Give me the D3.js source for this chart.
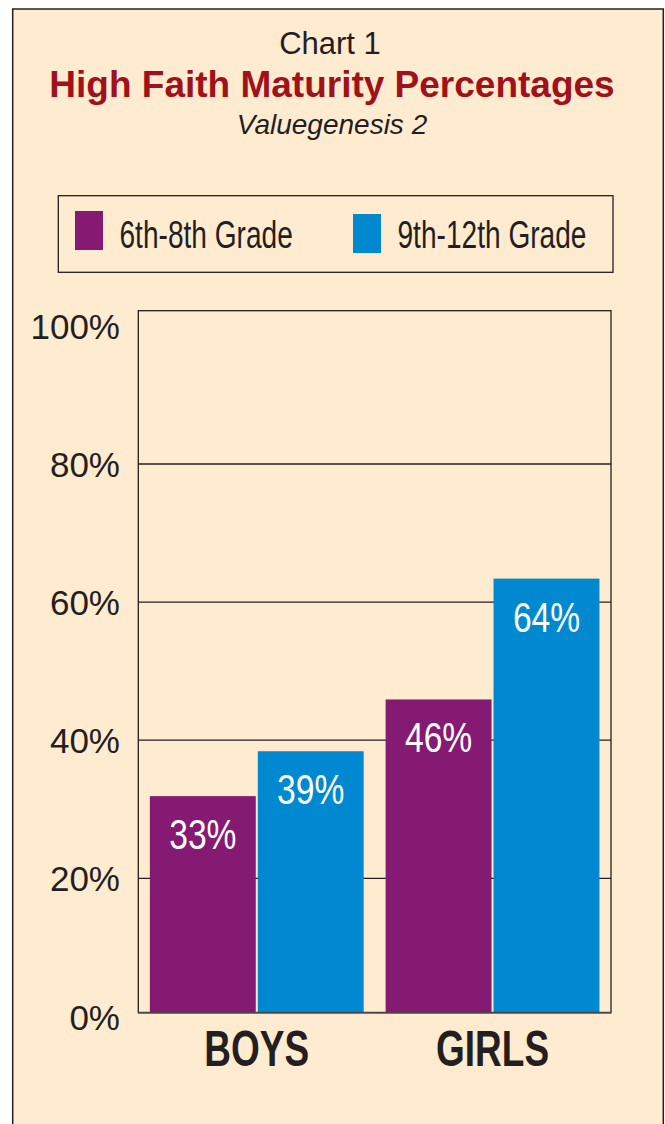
<!DOCTYPE html>
<html>
<head>
<meta charset="utf-8">
<script src="https://cdn.jsdelivr.net/npm/d3@7"></script>
<style>
	html, body { margin: 0; padding: 0; background: #ffffff; }
	svg { display: block; }
	text { font-family: "Liberation Sans", Arial, Helvetica, sans-serif; }
</style>
</head>
<body>
<div id="svgcontainer"></div>
<script>
// chart data
var groups = ["BOYS", "GIRLS"];
var series = ["6th-8th Grade", "9th-12th Grade"];
var seriesColors = ["#851a73", "#0089d0"];
// bar heights as drawn in the picture, and the printed labels
var barValues = [
	[31.9, 38.4],   // BOYS
	[45.9, 63.4]    // GIRLS
];
var barLabels = [
	["33%", "39%"],
	["46%", "64%"]
];
var yTicks = [0, 20, 40, 60, 80, 100];

var width = 665, height = 1124;
var ink = "#231f20";
var paper = "#ffebd0";

var svg = d3.select("#svgcontainer").append("svg")
	.attr("width", width)
	.attr("height", height);

// outer panel (runs off the bottom of the page)
svg.append("rect")
	.attr("x", 12.7).attr("y", 9)
	.attr("width", 650.6).attr("height", 1130)
	.attr("fill", paper)
	.attr("stroke", ink)
	.attr("stroke-width", 1.5);

// titles
svg.append("text")
	.attr("x", 330).attr("y", 54)
	.attr("text-anchor", "middle")
	.attr("font-size", 31)
	.attr("fill", ink)
	.text("Chart 1");
svg.append("text")
	.attr("x", 332).attr("y", 96.5)
	.attr("text-anchor", "middle")
	.attr("font-size", 37)
	.attr("font-weight", "bold")
	.attr("fill", "#a0111b")
	.text("High Faith Maturity Percentages");
svg.append("text")
	.attr("x", 332).attr("y", 134)
	.attr("text-anchor", "middle")
	.attr("font-size", 28)
	.attr("font-style", "italic")
	.attr("fill", ink)
	.text("Valuegenesis 2");

// legend
var legend = svg.append("g");
legend.append("rect")
	.attr("x", 58.3).attr("y", 195.7)
	.attr("width", 554.7).attr("height", 76.6)
	.attr("fill", "none")
	.attr("stroke", ink)
	.attr("stroke-width", 1.3);

var legendX = [75, 353];
var legendY = [211, 214];
var li = legend.selectAll(".legend-item")
	.data(series)
	.enter().append("g")
	.attr("class", "legend-item");
li.append("rect")
	.attr("x", function(d, i) { return legendX[i]; })
	.attr("y", function(d, i) { return legendY[i]; })
	.attr("width", 28).attr("height", 39)
	.attr("fill", function(d, i) { return seriesColors[i]; });
li.append("text")
	.attr("transform", function(d, i) { return "translate(" + (legendX[i] + 44.5) + ",247.5) scale(0.73,1)"; })
	.attr("font-size", 38.5)
	.attr("fill", ink)
	.text(function(d) { return d; });

// plot area
var plotLeft = 138.3, plotRight = 611, plotTop = 310.7, plotBottom = 1012.7;

var y = d3.scaleLinear()
	.domain([0, 100])
	.range([1016.4, 325.9]);

var x0 = d3.scaleBand()
	.domain(groups)
	.range([plotLeft, plotRight])
	.paddingInner(0.093)
	.paddingOuter(0.049);

var x1 = d3.scaleBand()
	.domain(d3.range(series.length))
	.range([0, x0.bandwidth()])
	.paddingInner(0.0185);

var g = svg.append("g");

// gridlines (skip 0 and 100, those sit on / near the frame)
g.selectAll(".grid")
	.data(yTicks.filter(function(t) { return t > 0 && t < 100; }))
	.enter().append("line")
	.attr("class", "grid")
	.attr("x1", plotLeft).attr("x2", plotRight)
	.attr("y1", function(d) { return y(d); })
	.attr("y2", function(d) { return y(d); })
	.attr("stroke", ink)
	.attr("stroke-width", 1.3);

// y axis labels
var yAxis = d3.axisLeft(y)
	.tickValues(yTicks)
	.tickSize(0)
	.tickPadding(0)
	.tickFormat(function(d) { return d + "%"; });
var ax = svg.append("g")
	.attr("transform", "translate(120,0)")
	.call(yAxis);
ax.select(".domain").remove();
ax.selectAll("text")
	.attr("font-family", "\"Liberation Sans\", Arial, sans-serif")
	.attr("font-size", 35)
	.attr("fill", ink)
	.attr("dy", "0.36em");

// bars
var bars = g.selectAll(".group")
	.data(groups)
	.enter().append("g")
	.attr("class", "group")
	.attr("transform", function(d) { return "translate(" + x0(d) + ",0)"; });

bars.selectAll("rect")
	.data(function(d, gi) { return barValues[gi].map(function(v, si) { return { v: v, s: si, label: barLabels[gi][si] }; }); })
	.enter().append("rect")
	.attr("x", function(d) { return x1(d.s); })
	.attr("y", function(d) { return y(d.v); })
	.attr("width", x1.bandwidth())
	.attr("height", function(d) { return plotBottom - y(d.v); })
	.attr("fill", function(d) { return seriesColors[d.s]; });

bars.selectAll(".bar-label")
	.data(function(d, gi) { return barValues[gi].map(function(v, si) { return { v: v, s: si, label: barLabels[gi][si] }; }); })
	.enter().append("text")
	.attr("class", "bar-label")
	.attr("transform", function(d) { return "translate(" + (x1(d.s) + x1.bandwidth() / 2) + "," + (y(d.v) + 53) + ") scale(0.8,1)"; })
	.attr("text-anchor", "middle")
	.attr("font-size", 42)
	.attr("fill", "#ffffff")
	.text(function(d) { return d.label; });

// frame
g.append("rect")
	.attr("x", plotLeft).attr("y", plotTop)
	.attr("width", plotRight - plotLeft)
	.attr("height", plotBottom - plotTop)
	.attr("fill", "none")
	.attr("stroke", ink)
	.attr("stroke-width", 1.3);
g.append("line")
	.attr("x1", plotLeft).attr("x2", plotRight)
	.attr("y1", plotBottom).attr("y2", plotBottom)
	.attr("stroke", "#4a4546")
	.attr("stroke-width", 1.8);

// category labels
svg.selectAll(".cat")
	.data(groups)
	.enter().append("text")
	.attr("class", "cat")
	.attr("transform", function(d) { return "translate(" + (x0(d) + x0.bandwidth() / 2) + ",1066) scale(0.74,1)"; })
	.attr("text-anchor", "middle")
	.attr("font-size", 50)
	.attr("font-weight", "bold")
	.attr("fill", ink)
	.text(function(d) { return d; });
</script>
</body>
</html>
